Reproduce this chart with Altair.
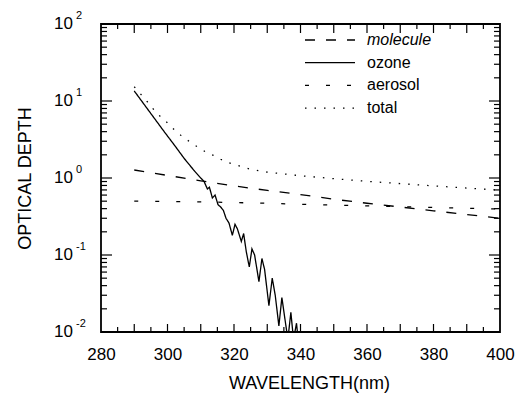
import altair as alt
import pandas as pd

# Plot area size in pixels
W, H = 399, 308

# Rayleigh (molecule) and aerosol optical depth
wavelength = [290, 300, 310, 320, 330, 340, 350, 360, 370, 380, 390, 400]
molecule = [1.27, 1.08, 0.92, 0.79, 0.69, 0.61, 0.53, 0.47, 0.42, 0.375, 0.335, 0.30]
aerosol = [0.50, 0.495, 0.49, 0.48, 0.47, 0.455, 0.445, 0.435, 0.425, 0.415, 0.405, 0.395]

# Ozone optical depth with the Huggins band structure
ozone_wavelength = [290, 293, 296, 299, 302, 305, 308, 310, 311, 312, 312.6, 313.5,
                    314.3, 315.2, 316, 316.8, 317.6, 318.5, 319.5, 320.3, 321, 322.2,
                    322.9, 323.7, 324.6, 325.4, 326.2, 327.5, 328.4, 329.2, 330.5,
                    331.5, 332.4, 333.5, 334.4, 335.2, 336.2, 337.1, 337.9, 338.8, 339.6]
ozone = [13.5, 9.0, 6.0, 4.0, 2.7, 1.8, 1.25, 1.0, 0.9, 0.72, 0.76, 0.55,
         0.6, 0.45, 0.42, 0.38, 0.30, 0.26, 0.18, 0.25, 0.22, 0.15,
         0.19, 0.11, 0.07, 0.12, 0.10, 0.045, 0.09, 0.065, 0.022,
         0.05, 0.03, 0.012, 0.028, 0.016, 0.008, 0.018, 0.008, 0.013, 0.006]

# Total optical depth
total_wavelength = [290, 292, 294, 296, 298, 300, 302, 304, 306, 308, 310, 312, 314,
                    316, 318, 320, 325, 330, 335, 340, 350, 360, 370, 380, 390, 400]
total = [15.3, 12.2, 9.7, 7.6, 6.2, 5.2, 4.25, 3.6, 3.1, 2.7, 2.4, 2.1, 1.95,
         1.75, 1.6, 1.5, 1.3, 1.19, 1.13, 1.07, 0.98, 0.905, 0.845, 0.79, 0.74, 0.695]

series_names = ["molecule", "ozone", "aerosol", "total"]
series_font_styles = ["italic", "normal", "normal", "normal"]
dash_patterns = [[10, 11], [1, 0], [4, 17], [1.5, 8]]

# Axis tick positions
x_labels = [280, 300, 320, 340, 360, 380, 400]
x_major_ticks = [290, 300, 310, 320, 330, 340, 350, 360, 370, 380, 390]
x_minor_ticks = [285, 295, 305, 315, 325, 335, 345, 355, 365, 375, 385, 395]
y_major_ticks = [0.1, 1, 10]
y_minor_ticks = [k * 10.0 ** e for e in range(-2, 2) for k in range(2, 10)]
y_label_values = [0.01, 0.1, 1, 10, 100]
y_label_exponents = ["-2", "-1", "0", "1", "2"]

curves = pd.concat([
    pd.DataFrame({"wl": wavelength, "tau": molecule, "series": "molecule"}),
    pd.DataFrame({"wl": ozone_wavelength, "tau": ozone, "series": "ozone"}),
    pd.DataFrame({"wl": wavelength, "tau": aerosol, "series": "aerosol"}),
    pd.DataFrame({"wl": total_wavelength, "tau": total, "series": "total"}),
], ignore_index=True)

FONT = "Liberation Sans"
xscale = alt.Scale(domain=[280, 400], nice=False, zero=False)
yscale = alt.Scale(type="log", domain=[0.01, 100], nice=False)
dash_scale = alt.Scale(domain=series_names, range=dash_patterns)

# One axis definition shared by every layer
xaxis = alt.Axis(values=x_labels, ticks=False, domain=False, grid=False,
                 labelFlush=False, labelFontSize=17, labelPadding=14,
                 labelColor="black",
                 title="WAVELENGTH(nm)", titleFontSize=18,
                 titleFontWeight="normal", titleColor="black",
                 titleX=208, titleY=51, titleBaseline="middle")
yaxis = alt.Axis(labels=False, ticks=False, domain=False, grid=False,
                 title="OPTICAL DEPTH", titleFontSize=18,
                 titleFontWeight="normal", titleColor="black",
                 titleX=-76, titleY=154, titleAngle=270,
                 titleAlign="center", titleBaseline="middle")


def X(field="wl"):
    return alt.X(f"{field}:Q", scale=xscale, axis=xaxis)


def Y(field="tau"):
    return alt.Y(f"{field}:Q", scale=yscale, axis=yaxis)


lines = alt.Chart(curves).mark_line(color="black", strokeWidth=1.3, clip=True).encode(
    x=X(), y=Y(),
    strokeDash=alt.StrokeDash("series:N", scale=dash_scale, legend=None),
)


def x_tick_layer(values, length, top):
    y0 = 0 if top else H
    y1 = length if top else H - length
    return alt.Chart(pd.DataFrame({"wl": values})).mark_rule(
        color="black", strokeWidth=1.2).encode(
        x=X(), y=alt.value(y0), y2=alt.value(y1))


def y_tick_layer(values, length, right):
    x0 = W if right else 0
    x1 = W - length if right else length
    return alt.Chart(pd.DataFrame({"tau": values})).mark_rule(
        color="black", strokeWidth=1.2).encode(
        y=Y(), x=alt.value(x0), x2=alt.value(x1))


ticks = [
    x_tick_layer(x_major_ticks, 8, False), x_tick_layer(x_minor_ticks, 5, False),
    x_tick_layer(x_major_ticks, 9, True), x_tick_layer(x_minor_ticks, 5, True),
    y_tick_layer(y_major_ticks, 11, False), y_tick_layer(y_minor_ticks, 6, False),
    y_tick_layer(y_major_ticks, 11, True), y_tick_layer(y_minor_ticks, 6, True),
]

# y tick labels as "10" with a raised exponent
ylab_df = pd.DataFrame({"tau": y_label_values, "base": "10", "exp": y_label_exponents})
ylab_base = alt.Chart(ylab_df).mark_text(
    align="right", baseline="middle", fontSize=17, font=FONT, color="black").encode(
    y=Y(), x=alt.value(-28), text="base:N")
ylab_exp = alt.Chart(ylab_df).mark_text(
    align="left", baseline="middle", fontSize=11, font=FONT, color="black", dy=-8).encode(
    y=Y(), x=alt.value(-25), text="exp:N")

# Key in the upper right corner of the plot
key_layers = []
for i, (name, style) in enumerate(zip(series_names, series_font_styles)):
    row_y = 16 + i * 22.7
    row = pd.DataFrame({"series": [name]})
    key_layers.append(
        alt.Chart(row).mark_rule(color="black", strokeWidth=1.3).encode(
            x=alt.value(204), x2=alt.value(254), y=alt.value(row_y),
            strokeDash=alt.StrokeDash("series:N", scale=dash_scale, legend=None)))
    key_layers.append(
        alt.Chart(row).mark_text(align="left", baseline="middle", fontSize=16,
                                 font=FONT, fontStyle=style, color="black").encode(
            x=alt.value(266), y=alt.value(row_y), text="series:N"))

chart = alt.layer(lines, *ticks, ylab_base, ylab_exp, *key_layers).properties(
    width=W, height=H,
    autosize=alt.AutoSizeParams(type="none"),
    padding={"left": 101, "top": 24, "right": 27, "bottom": 78},
).configure(font=FONT).configure_view(stroke="black", strokeWidth=1.8)

chart.save("out.html", embed_options={"renderer": "svg", "actions": False})
